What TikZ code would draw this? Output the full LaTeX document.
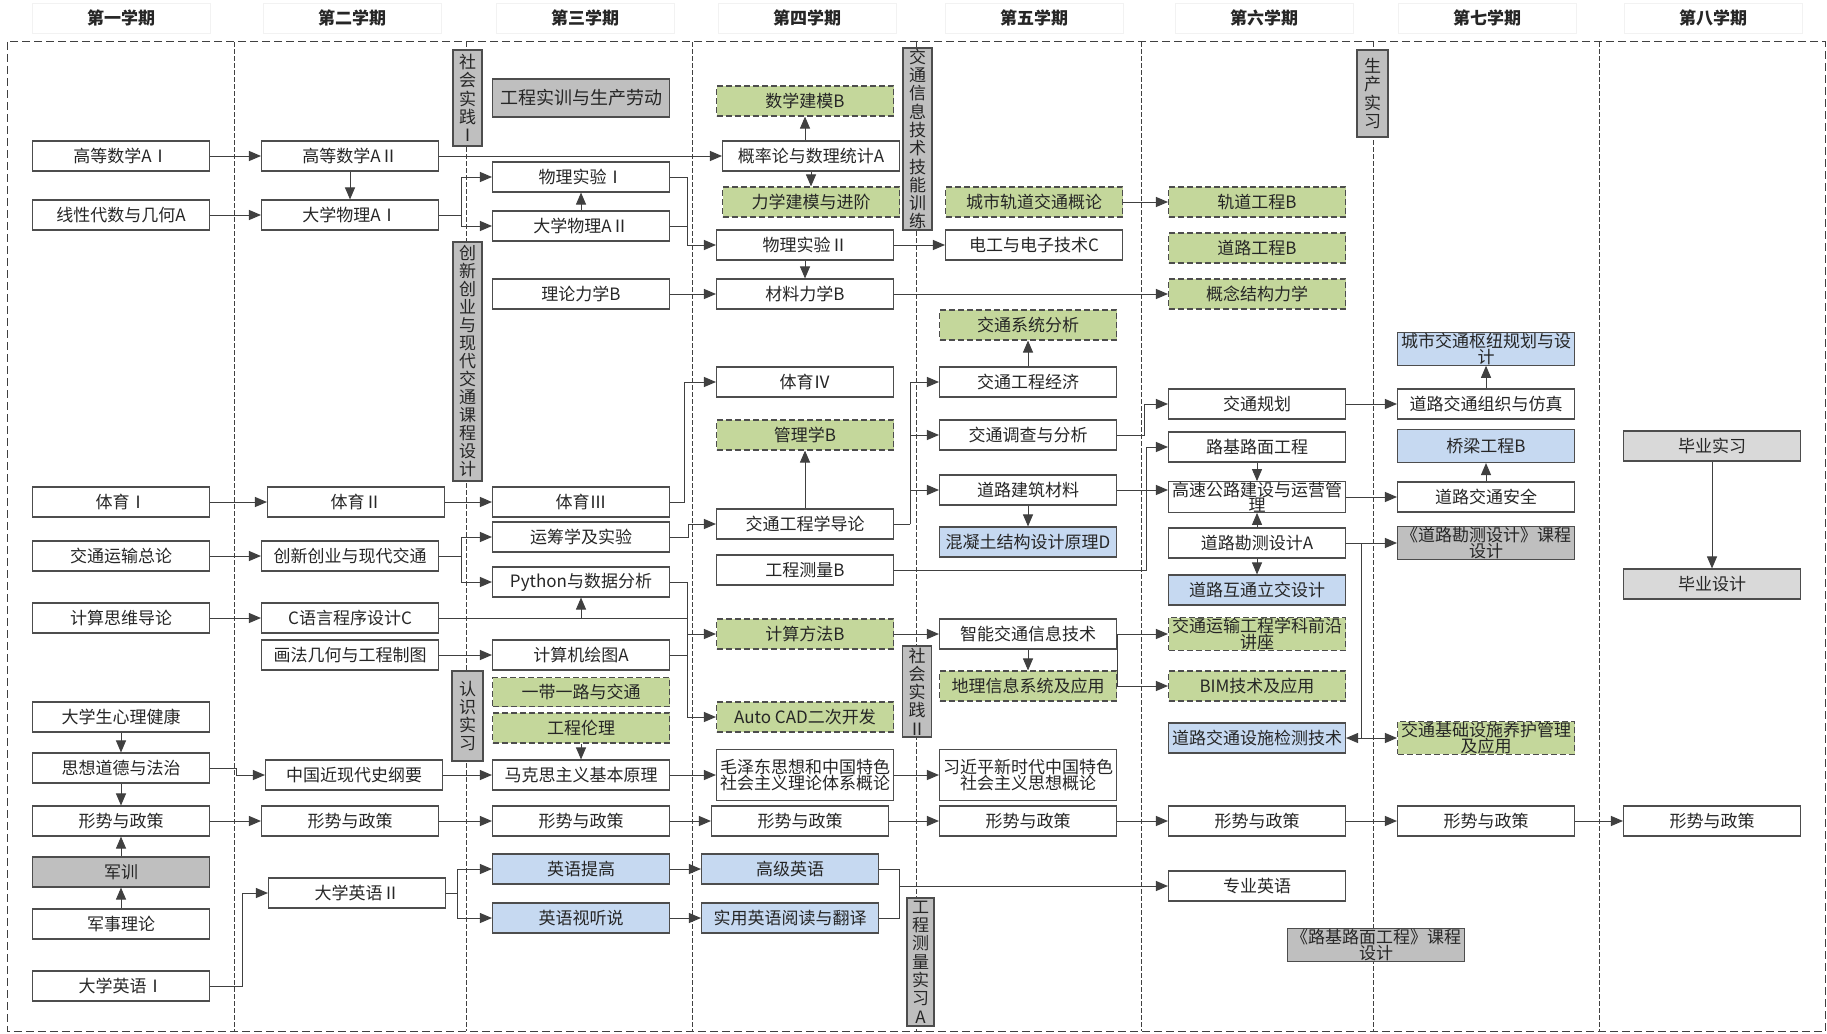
\documentclass[tikz,border=0pt]{standalone}
\usepackage{fontspec}
\setmainfont{Noto Sans CJK SC}
\usetikzlibrary{arrows.meta}
\definecolor{lc}{HTML}{404040}
\definecolor{bc}{HTML}{4D4D4D}
\definecolor{gfill}{HTML}{C4D79B}
\definecolor{bfill}{HTML}{C6D9F1}
\definecolor{grfill}{HTML}{BFBFBF}
\definecolor{lgfill}{HTML}{D9D9D9}
\definecolor{tc}{HTML}{262626}
\begin{document}
\begin{tikzpicture}[x=1pt,y=-1pt,
 box/.style={draw=bc, line width=1.1pt, fill=white, minimum width=177pt, minimum height=30pt, inner sep=0pt, align=center, text=tc, font=\fontsize{17}{15.5}\selectfont},
 gbox/.style={box, fill=gfill, dash pattern=on 6pt off 3pt},
 bbox/.style={box, fill=bfill},
 grbox/.style={box, fill=grfill},
 lgbox/.style={box, fill=lgfill},
 bar/.style={draw=bc, line width=1.1pt, fill=grfill, minimum width=29pt, inner sep=0pt, align=center, text=tc, font=\fontsize{17}{18.3}\selectfont},
 hdr/.style={draw=black!5, minimum width=178pt, minimum height=30pt, font=\bfseries\fontsize{17}{18}\selectfont, text=tc},
 arr/.style={draw=lc, line width=1pt, -{Triangle[length=12pt,width=10pt]}},
 ln/.style={draw=lc, line width=1pt},
 div/.style={draw=lc, line width=0.9pt, dash pattern=on 5pt off 2pt},
]
\useasboundingbox (0,0) rectangle (1827,1033);
\fill[white] (0,0) rectangle (1827,1033);
% headers
\foreach \x/\t [count=\i] in {121/第一学期, 352/第二学期, 585/第三学期, 807/第四学期, 1034/第五学期, 1264/第六学期, 1487/第七学期, 1713/第八学期}
  \node[hdr] (h\i) at (\x,18) {\t};
% frame and dividers
\draw[lc, line width=1pt, dash pattern=on 8pt off 4pt] (7,42) rectangle (1825.5,1031);
\foreach \x in {234,466,692,916,1141,1373,1599}
  \draw[div] (\x,42) -- (\x,1031);
% ---------- column 1
\node[box] (ga1) at (121,156) {高等数学AⅠ};
\node[box] (xd) at (121,215) {线性代数与几何A};
\node[box] (ty1) at (121,502) {体育Ⅰ};
\node[box] (jtys) at (121,556) {交通运输总论};
\node[box] (jssw) at (121,618) {计算思维导论};
\node[box] (xl) at (121,717) {大学生心理健康};
\node[box] (sx) at (121,768) {思想道德与法治};
\node[box] (xs1) at (121,821) {形势与政策};
\node[grbox] (jx) at (121,872) {军训};
\node[box] (jsll) at (121,924) {军事理论};
\node[box] (yy1) at (121,986) {大学英语Ⅰ};
% ---------- column 2
\node[box] (ga2) at (350,156) {高等数学AⅡ};
\node[box] (wl1) at (350,215) {大学物理AⅠ};
\node[box] (ty2) at (356,502) {体育Ⅱ};
\node[box] (cx) at (350,556) {创新创业与现代交通};
\node[box] (cyy) at (350,618) {C语言程序设计C};
\node[box] (hf) at (350,655) {画法几何与工程制图};
\node[box] (zg) at (354,775) {中国近现代史纲要};
\node[box] (xs2) at (350,821) {形势与政策};
\node[box] (yy2) at (357,893) {大学英语Ⅱ};
% bars
\node[bar, minimum height=96pt] (sj1) at (467.5,98) {社\\会\\实\\践\\Ⅰ};
\node[bar, minimum height=239pt, font=\fontsize{17}{18}\selectfont] (cxkc) at (467.5,361.5) {创\\新\\创\\业\\与\\现\\代\\交\\通\\课\\程\\设\\计};
\node[bar, minimum height=90pt, minimum width=31pt] (rs) at (467.5,716) {认\\识\\实\\习};
% ---------- column 3
\node[grbox, minimum height=38pt, font=\fontsize{18}{18}\selectfont] (gcsx) at (581,98) {工程实训与生产劳动};
\node[box] (wsy1) at (581,177) {物理实验Ⅰ};
\node[box] (wl2) at (581,226) {大学物理AⅡ};
\node[box] (ll) at (581,294) {理论力学B};
\node[box] (ty3) at (581,502) {体育Ⅲ};
\node[box] (yc) at (581,537) {运筹学及实验};
\node[box] (py) at (581,582) {Python与数据分析};
\node[box] (jsj) at (581,655) {计算机绘图A};
\node[gbox, minimum height=29pt] (ydyl) at (581,692) {一带一路与交通};
\node[gbox] (gcll) at (581,728) {工程伦理};
\node[box] (mks) at (581,775) {马克思主义基本原理};
\node[box] (xs3) at (581,821) {形势与政策};
\node[bbox] (yytg) at (581,869) {英语提高};
\node[bbox] (yyst) at (581,918) {英语视听说};
% ---------- column 4
\node[gbox] (sxjm) at (805,101) {数学建模B};
\node[box] (gl) at (811,156) {概率论与数理统计A};
\node[gbox] (lxjm) at (811,202) {力学建模与进阶};
\node[box] (wsy2) at (805,245) {物理实验Ⅱ};
\node[box] (clx) at (805,294) {材料力学B};
\node[box] (ty4) at (805,382) {体育Ⅳ};
\node[gbox] (glx) at (805,435) {管理学B};
\node[box] (jtgc) at (805,524) {交通工程学导论};
\node[box] (gccl) at (805,570) {工程测量B};
\node[gbox] (jsff) at (805,634) {计算方法B};
\node[gbox] (cad) at (805,717) {Auto CAD二次开发};
\node[box, minimum height=51pt] (mzd) at (805,775) {毛泽东思想和中国特色\\社会主义理论体系概论};
\node[box] (xs4) at (800,821) {形势与政策};
\node[bbox] (gjyy) at (790,869) {高级英语};
\node[bbox] (syyy) at (790,918) {实用英语阅读与翻译};
% bars
\node[bar, minimum height=182pt] (jtxx) at (917.5,139) {交\\通\\信\\息\\技\\术\\技\\能\\训\\练};
\node[bar, minimum height=91pt] (sj2) at (917,691.5) {社\\会\\实\\践\\Ⅱ};
\node[bar, minimum height=128pt, minimum width=27pt] (gcclsx) at (920.5,962) {工\\程\\测\\量\\实\\习\\A};
% ---------- column 5
\node[gbox] (csgd) at (1034,202) {城市轨道交通概论};
\node[box] (dg) at (1034,245) {电工与电子技术C};
\node[gbox] (jtxt) at (1028,325) {交通系统分析};
\node[box] (jtjj) at (1028,382) {交通工程经济};
\node[box] (jtdc) at (1028,435) {交通调查与分析};
\node[box] (dljz) at (1028,490) {道路建筑材料};
\node[bbox] (hnt) at (1028,542) {混凝土结构设计原理D};
\node[box] (zn) at (1028,634) {智能交通信息技术};
\node[gbox] (dl) at (1028,686) {地理信息系统及应用};
\node[box, minimum height=51pt] (xjp) at (1028,775) {习近平新时代中国特色\\社会主义思想概论};
\node[box] (xs5) at (1028,821) {形势与政策};
% ---------- column 6
\node[gbox] (gd) at (1257,202) {轨道工程B};
\node[gbox] (dlgc) at (1257,248) {道路工程B};
\node[gbox] (gnjg) at (1257,294) {概念结构力学};
\node[box] (jtgh) at (1257,404) {交通规划};
\node[box] (ljlm) at (1257,447) {路基路面工程};
\node[box] (gsgl) at (1257,497) {高速公路建设与运营管\\理};
\node[box] (dlkc) at (1257,543) {道路勘测设计A};
\node[bbox] (hlt) at (1257,590) {道路互通立交设计};
\node[gbox] (qy) at (1257,634) {交通运输工程学科前沿\\讲座};
\node[gbox] (bim) at (1257,686) {BIM技术及应用};
\node[bbox] (jcjs) at (1257,738) {道路交通设施检测技术};
\node[box] (xs6) at (1257,821) {形势与政策};
\node[box] (zyyy) at (1257,886) {专业英语};
\node[grbox] (ljkc) at (1376,945) {《路基路面工程》课程\\设计};
% bar
\node[bar, minimum height=87pt, minimum width=31pt] (scsx) at (1372.5,93.5) {生\\产\\实\\习};
% ---------- column 7
\node[bbox, minimum height=31pt] (csjt) at (1486,349) {城市交通枢纽规划与设\\计};
\node[box] (zzfz) at (1486,404) {道路交通组织与仿真};
\node[bbox, minimum height=33pt] (ql) at (1486,446) {桥梁工程B};
\node[box] (aq) at (1486,497) {道路交通安全};
\node[grbox] (dkkc) at (1486,543) {《道路勘测设计》课程\\设计};
\node[gbox] (yh) at (1486,738) {交通基础设施养护管理\\及应用};
\node[box] (xs7) at (1486,821) {形势与政策};
% ---------- column 8
\node[lgbox] (bysx) at (1712,446) {毕业实习};
\node[lgbox] (bysj) at (1712,584) {毕业设计};
\node[box] (xs8) at (1712,821) {形势与政策};
% ---------- coordinates
\coordinate (b1) at (461,215);
\coordinate (b2) at (687,245);
\coordinate (b3) at (461,556);
\coordinate (b4) at (457,893);
\coordinate (b5) at (899,886);
\coordinate (b6) at (910,524);
\coordinate (bt) at (687,582);
\coordinate (bb) at (687,717);
\coordinate (b7) at (1361,543);
% ---------- connectors col1
\draw[arr] (ga1.east) -- (ga2.west);
\draw[arr] (xd.east) -- (wl1.west);
\draw[arr] (ga2.south) -- (wl1.north);
\draw[arr] (ty1.east) -- (ty1.east -| ty2.west);
\draw[arr] (jtys.east) -- (cx.west);
\draw[arr] (jssw.east) -- (cyy.west);
\draw[arr] (xl.south) -- (sx.north);
\draw[arr] (sx.east) -- ++(26,0) |- (zg.west);
\draw[arr] (sx.south) -- (xs1.north);
\draw[arr] (jx.north) -- (xs1.south);
\draw[arr] (jsll.north) -- (jx.south);
\draw[arr] (xs1.east) -- (xs2.west);
\draw[arr] (yy1.east) -- ++(32,0) |- (yy2.west);
% col2
\draw[arr] (ga2.east) -- (gl.west);
\draw[ln] (wl1.east) -- (b1);
\draw[arr] (b1) |- (wsy1.west);
\draw[arr] (b1) |- (wl2.west);
\draw[arr] (wl2.north) -- (wsy1.south);
\draw[ln] (wsy1.east) -| (b2);
\draw[ln] (wl2.east) -- (wl2.east -| b2);
\draw[arr] (b2) -- (wsy2.west);
\draw[arr] (wsy2.south) -- (clx.north);
\draw[arr] (ll.east) -- (clx.west);
\draw[arr] (gl.north -| sxjm.south) -- (sxjm.south);
\draw[arr] (gl.south) -- (lxjm.north);
\draw[arr] (wsy2.east) -- (wsy2.east -| dg.west);
\draw[arr] (clx.east) -- (gnjg.west);
\draw[arr] (csgd.east) -- (gd.west);
\draw[arr] (ty2.east) -- (ty3.west);
\draw[ln] (cx.east) -- (b3);
\draw[arr] (b3) |- (yc.west);
\draw[arr] (b3) |- (py.west);
\draw[ln] (py.east) -- (bt) -- (bb);
\draw[ln] (cyy.east) -- (cyy.east -| bt);
\draw[ln] (jsj.east) -- (jsj.east -| bt);
\draw[arr] (cyy.east -| py.south) -- (py.south);
\draw[arr] (jsff.west -| bt) -- (jsff.west);
\draw[arr] (bb) -- (cad.west);
\draw[arr] (hf.east) -- (jsj.west);
\draw[arr] (zg.east) -- (mks.west);
\draw[arr] (gcll.south) -- (mks.north);
\draw[arr] (xs2.east) -- (xs3.west);
\draw[ln] (yy2.east) -- (b4);
\draw[arr] (b4) |- (yytg.west);
\draw[arr] (b4) |- (yyst.west);
% col3 -> col4
\draw[arr] (ty3.east) -- ++(14,0) |- (ty4.west);
\draw[arr] (yc.east) -- ++(18,0) |- (jtgc.west);
\draw[arr] (jtgc.north) -- (glx.south);
\draw[arr] (mks.east) -- (mzd.west);
\draw[arr] (xs3.east) -- (xs4.west);
\draw[arr] (yytg.east) -- (gjyy.west);
\draw[arr] (yyst.east) -- (syyy.west);
\draw[ln] (gjyy.east) -| (b5);
\draw[ln] (syyy.east) -| (b5);
\draw[arr] (b5) -- (zyyy.west);
% col4 -> col5
\draw[ln] (jtgc.east) -- (b6);
\draw[arr] (b6) |- (jtjj.west);
\draw[arr] (b6) |- (jtdc.west);
\draw[arr] (b6) |- (dljz.west);
\draw[arr] (gccl.east) -- ++(252,0) |- (ljlm.west);
\draw[arr] (jtdc.east) -- ++(27,0) |- (jtgh.west);
\draw[arr] (dljz.east) -- (dljz.east -| gsgl.west);
\draw[arr] (jtjj.north) -- (jtxt.south);
\draw[arr] (dljz.south) -- (hnt.north);
\draw[arr] (jsff.east) -- (zn.west);
\draw[arr] (zn.south) -- (dl.north);
\draw[arr] (zn.east) -- (qy.west);
\draw[ln] (zn.east) -- (dl.east);
\draw[arr] (dl.east) -- (bim.west);
\draw[arr] (mzd.east) -- (xjp.west);
\draw[arr] (xs4.east) -- (xs5.west);
\draw[arr] (xs5.east) -- (xs6.west);
\draw[arr] (xs6.east) -- (xs7.west);
\draw[arr] (xs7.east) -- (xs8.west);
% col6
\draw[arr] (ljlm.south) -- (gsgl.north);
\draw[arr] (dlkc.north) -- (gsgl.south);
\draw[arr] (dlkc.south) -- (hlt.north);
\draw[arr] (dlkc.east) -- (dkkc.west);
\draw[ln] (dlkc.east) -- (b7);
\draw[arr] (b7) |- (yh.west);
\draw[arr] (jcjs.east -| b7) -- (jcjs.east);
\draw[arr] (jtgh.east) -- (zzfz.west);
\draw[arr] (gsgl.east) -- (aq.west);
\draw[arr] (zzfz.north) -- (csjt.south);
\draw[arr] (aq.north) -- (ql.south);
\draw[arr] (bysx.south) -- (bysj.north);
\end{tikzpicture}
\end{document}
